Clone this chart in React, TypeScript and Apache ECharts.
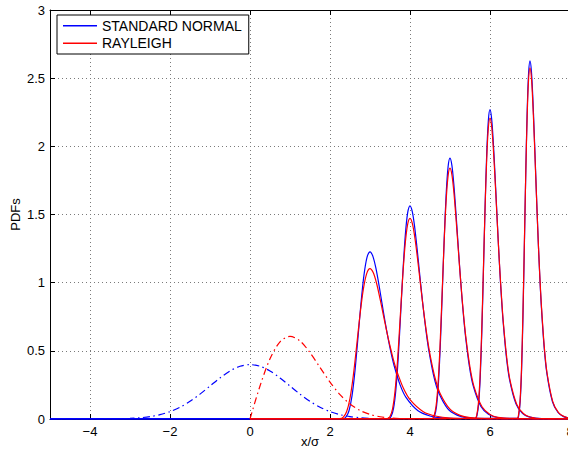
import React, { useEffect, useRef } from 'react';
import * as echarts from 'echarts';

const FONT = '"Liberation Sans", Arial, Helvetica, sans-serif';

const xTicks = [-4, -2, 0, 2, 4, 6, 8];
const legendNames = ['STANDARD NORMAL', 'RAYLEIGH'];

// Standard normal pdf (dash-dot)
const normalPdf = [
  [-5, 0], [-4.5, 0], [-4, 0.0001], [-3.5, 0.0009], [-3.25, 0.002], [-3, 0.0044], [-2.75, 0.0091],
  [-2.5, 0.0175], [-2.25, 0.0317], [-2, 0.054], [-1.75, 0.0863], [-1.5, 0.1295], [-1.25, 0.1826],
  [-1, 0.242], [-0.75, 0.3011], [-0.5, 0.3521], [-0.25, 0.3867], [0, 0.3989], [0.25, 0.3867],
  [0.5, 0.3521], [0.75, 0.3011], [1, 0.242], [1.25, 0.1826], [1.5, 0.1295], [1.75, 0.0863],
  [2, 0.054], [2.25, 0.0317], [2.5, 0.0175], [2.75, 0.0091], [3, 0.0044], [3.25, 0.002],
  [3.5, 0.0009], [4, 0.0001], [4.5, 0], [8, 0],
];

// Rayleigh pdf (dash-dot)
const rayleighPdf = [
  [0, 0], [0.25, 0.2423], [0.5, 0.4412], [0.75, 0.5661], [1, 0.6065], [1.25, 0.5723], [1.5, 0.487],
  [1.75, 0.3786], [2, 0.2707], [2.25, 0.179], [2.5, 0.1098], [2.75, 0.0627], [3, 0.0333],
  [3.25, 0.0165], [3.5, 0.0077], [3.75, 0.0033], [4, 0.0013], [4.5, 0.0002], [5, 0], [8, 0],
];

// Solid blue peaks (standard normal)
const normalPeak3 = [
  [-5, 0], [2.325, 0.0024], [2.4, 0.0152], [2.475, 0.0608], [2.55, 0.169], [2.625, 0.3547], [2.7, 0.598],
  [2.775, 0.8497], [2.85, 1.0567], [2.925, 1.1853], [3, 1.2263], [3.075, 1.1913], [3.15, 1.1023],
  [3.225, 0.9817], [3.3, 0.8487], [3.375, 0.717], [3.45, 0.595], [3.525, 0.4867], [3.6, 0.394],
  [3.75, 0.252], [3.9, 0.158], [4.2, 0.06], [4.5, 0.0223], [4.8, 0.0082], [5.4, 0.0011], [8, 0],
];
const normalPeak4 = [
  [-5, 0], [3.4706, 0.0031], [3.5294, 0.0194], [3.5882, 0.0775], [3.6471, 0.2155], [3.7059, 0.4522],
  [3.7647, 0.7625], [3.8235, 1.0833], [3.8824, 1.3473], [3.9412, 1.5113], [4, 1.5636], [4.0588, 1.519],
  [4.1176, 1.4055], [4.1765, 1.2516], [4.2353, 1.082], [4.2941, 0.9142], [4.3529, 0.7586],
  [4.4118, 0.6205], [4.4706, 0.5024], [4.5882, 0.3213], [4.7059, 0.2015], [4.9412, 0.0765],
  [5.1765, 0.0284], [5.4118, 0.0105], [5.8824, 0.0014], [8, 0],
];
const normalPeak5 = [
  [-5, 0], [4.5673, 0.0037], [4.6154, 0.0238], [4.6635, 0.0948], [4.7115, 0.2636], [4.7596, 0.5533],
  [4.8077, 0.9329], [4.8558, 1.3255], [4.9038, 1.6484], [4.9519, 1.8491], [5, 1.9131], [5.0481, 1.8585],
  [5.0962, 1.7196], [5.1442, 1.5314], [5.1923, 1.3239], [5.2404, 1.1185], [5.2885, 0.9282],
  [5.3365, 0.7592], [5.3846, 0.6146], [5.4808, 0.3931], [5.5769, 0.2465], [5.7692, 0.0936],
  [5.9615, 0.0348], [6.1538, 0.0128], [6.5385, 0.0017], [8, 0],
];
const normalPeak6 = [
  [-5, 0], [5.6351, 0.0044], [5.6757, 0.0282], [5.7162, 0.1124], [5.7568, 0.3127], [5.7973, 0.6561],
  [5.8378, 1.1063], [5.8784, 1.5719], [5.9189, 1.9548], [5.9595, 2.1929], [6, 2.2687], [6.0405, 2.204],
  [6.0811, 2.0393], [6.1216, 1.8161], [6.1622, 1.57], [6.2027, 1.3264], [6.2432, 1.1008],
  [6.2838, 0.9003], [6.3243, 0.7289], [6.4054, 0.4662], [6.4865, 0.2923], [6.6486, 0.111],
  [6.8108, 0.0413], [6.973, 0.0152], [7.2973, 0.0021], [8, 0],
];
const normalPeak7 = [
  [-5, 0], [6.685, 0.0051], [6.72, 0.0326], [6.755, 0.1302], [6.79, 0.3621], [6.825, 0.76],
  [6.86, 1.2814], [6.895, 1.8207], [6.93, 2.2643], [6.965, 2.54], [7, 2.6279], [7.035, 2.5529],
  [7.07, 2.3621], [7.105, 2.1036], [7.14, 1.8186], [7.175, 1.5364], [7.21, 1.275], [7.245, 1.0429],
  [7.28, 0.8443], [7.35, 0.54], [7.42, 0.3386], [7.56, 0.1286], [7.7, 0.0478], [7.84, 0.0176],
  [8, 0.0056],
];

// Solid red peaks (Rayleigh)
const rayleighPeak3 = [
  [0, 0], [2.25, 0.0022], [2.333, 0.0137], [2.417, 0.0547], [2.5, 0.1521], [2.583, 0.3192],
  [2.667, 0.5382], [2.75, 0.7647], [2.833, 0.951], [2.917, 1.0668], [3, 1.1037], [3.083, 1.0722],
  [3.167, 0.9921], [3.25, 0.8835], [3.333, 0.7638], [3.417, 0.6453], [3.5, 0.5355], [3.583, 0.438],
  [3.667, 0.3546], [3.833, 0.2268], [4, 0.1422], [4.333, 0.054], [4.667, 0.0201], [5, 0.0074],
  [5.667, 0.001], [8, 0],
];
const rayleighPeak4 = [
  [0, 0], [3.4375, 0.0029], [3.5, 0.0183], [3.5625, 0.0729], [3.625, 0.2028], [3.6875, 0.4256],
  [3.75, 0.7176], [3.8125, 1.0196], [3.875, 1.268], [3.9375, 1.4224], [4, 1.4716], [4.0625, 1.4296],
  [4.125, 1.3228], [4.1875, 1.178], [4.25, 1.0184], [4.3125, 0.8604], [4.375, 0.714], [4.4375, 0.584],
  [4.5, 0.4728], [4.625, 0.3024], [4.75, 0.1896], [5, 0.072], [5.25, 0.0268], [5.5, 0.0099],
  [6, 0.0013], [8, 0],
];
const rayleighPeak5 = [
  [0, 0], [4.55, 0.0036], [4.6, 0.0229], [4.65, 0.0912], [4.7, 0.2535], [4.75, 0.532], [4.8, 0.897],
  [4.85, 1.2745], [4.9, 1.585], [4.95, 1.778], [5, 1.8395], [5.05, 1.787], [5.1, 1.6535], [5.15, 1.4725],
  [5.2, 1.273], [5.25, 1.0755], [5.3, 0.8925], [5.35, 0.73], [5.4, 0.591], [5.5, 0.378], [5.6, 0.237],
  [5.8, 0.09], [6, 0.0335], [6.2, 0.0124], [6.6, 0.0017], [8, 0],
];
const rayleighPeak6 = [
  [0, 0], [5.625, 0.0043], [5.667, 0.0274], [5.708, 0.1094], [5.75, 0.3042], [5.792, 0.6384],
  [5.833, 1.0764], [5.875, 1.5294], [5.917, 1.902], [5.958, 2.1336], [6, 2.2074], [6.042, 2.1444],
  [6.083, 1.9842], [6.125, 1.767], [6.167, 1.5276], [6.208, 1.2906], [6.25, 1.071], [6.292, 0.876],
  [6.333, 0.7092], [6.417, 0.4536], [6.5, 0.2844], [6.667, 0.108], [6.833, 0.0401], [7, 0.0148],
  [7.333, 0.002], [8, 0],
];
const rayleighPeak7 = [
  [0, 0], [6.679, 0.005], [6.714, 0.032], [6.75, 0.1276], [6.786, 0.3549], [6.821, 0.7448],
  [6.857, 1.2558], [6.893, 1.7843], [6.929, 2.219], [6.964, 2.4892], [7, 2.5753], [7.036, 2.5018],
  [7.071, 2.3149], [7.107, 2.0615], [7.143, 1.7822], [7.179, 1.5057], [7.214, 1.2495], [7.25, 1.022],
  [7.286, 0.8274], [7.357, 0.5292], [7.429, 0.3318], [7.571, 0.126], [7.714, 0.0468], [7.857, 0.0173],
  [8, 0.0064],
];

const BLUE = '#0000ff';
const RED = '#ff0000';
const DASHDOT = [7, 3.5, 1.5, 3.5];

function lineSeries(name: string, data: number[][], color: string, dashed: boolean, z: number) {
  return {
    type: 'line',
    name,
    data,
    symbol: 'none',
    showSymbol: false,
    smooth: 0.3,
    silent: true,
    z,
    color,
    lineStyle: { color, width: 1.2, type: dashed ? DASHDOT : 'solid' },
  };
}

export default function App() {
  const ref = useRef<HTMLDivElement>(null);
  useEffect(() => {
    const chart = echarts.init(ref.current!, null, { renderer: 'svg' });
    const axisText = { fontFamily: FONT, fontSize: 13, color: '#000' };
    const grid = { color: '#7a7a7a', width: 1, type: [1, 3] };
    const option: any = {
      animation: false,
      backgroundColor: '#fff',
      textStyle: { fontFamily: FONT },
      grid: { left: 50, right: 30, top: 10, bottom: 34, outerBoundsMode: 'none', containLabel: false },
      legend: {
        data: legendNames,
        orient: 'vertical',
        left: 57,
        top: 15,
        padding: [3.7, 7, 3.7, 6],
        itemGap: 3.6,
        itemWidth: 34,
        itemHeight: 1.4,
        icon: 'rect',
        backgroundColor: '#fff',
        borderColor: '#000',
        borderWidth: 1,
        borderRadius: 0,
        selectedMode: false,
        textStyle: { fontFamily: FONT, fontSize: 14, lineHeight: 14, color: '#000', padding: [0, 0, 0, 0] },
      },
      xAxis: [
        {
          type: 'value',
          position: 'bottom',
          min: -5,
          max: 8,
          name: 'x/σ',
          nameLocation: 'middle',
          nameGap: 16,
          nameMoveOverlap: false,
          nameTextStyle: axisText,
          axisLine: { show: true, onZero: false, lineStyle: { color: '#000', width: 1 } },
          axisTick: { show: true, inside: true, length: 5, customValues: xTicks, lineStyle: { color: '#000' } },
          axisLabel: {
            ...axisText,
            margin: 6,
            customValues: xTicks,
            formatter: (v: number) => String(v).replace('-', '\u2212'),
          },
          splitLine: { show: true, lineStyle: grid },
        },
        {
          type: 'value',
          position: 'top',
          min: -5,
          max: 8,
          axisLine: { show: true, onZero: false, lineStyle: { color: '#000', width: 1 } },
          axisTick: { show: true, inside: true, length: 5, customValues: xTicks, lineStyle: { color: '#000' } },
          axisLabel: { show: false },
          splitLine: { show: false },
        },
      ],
      yAxis: [
        {
          type: 'value',
          min: 0,
          max: 3,
          interval: 0.5,
          name: 'PDFs',
          nameLocation: 'middle',
          nameGap: 28,
          nameRotate: 90,
          nameMoveOverlap: false,
          nameTextStyle: axisText,
          axisLine: { show: true, onZero: false, lineStyle: { color: '#000', width: 1 } },
          axisTick: { show: true, inside: true, length: 5, lineStyle: { color: '#000' } },
          axisLabel: { ...axisText, margin: 5 },
          splitLine: { show: true, lineStyle: grid },
        },
      ],
      series: [
        lineSeries('STANDARD NORMAL', normalPeak3, BLUE, false, 2),
        lineSeries('STANDARD NORMAL', normalPeak4, BLUE, false, 2),
        lineSeries('STANDARD NORMAL', normalPeak5, BLUE, false, 2),
        lineSeries('STANDARD NORMAL', normalPeak6, BLUE, false, 2),
        lineSeries('STANDARD NORMAL', normalPeak7, BLUE, false, 2),
        lineSeries('STANDARD NORMAL', normalPdf, BLUE, true, 2),
        lineSeries('RAYLEIGH', rayleighPeak3, RED, false, 3),
        lineSeries('RAYLEIGH', rayleighPeak4, RED, false, 3),
        lineSeries('RAYLEIGH', rayleighPeak5, RED, false, 3),
        lineSeries('RAYLEIGH', rayleighPeak6, RED, false, 3),
        lineSeries('RAYLEIGH', rayleighPeak7, RED, false, 3),
        lineSeries('RAYLEIGH', rayleighPdf, RED, true, 3),
      ],
    };
    chart.setOption(option);
    return () => chart.dispose();
  }, []);
  return (
    <div
      style={{
        position: 'fixed',
        left: 0,
        top: 0,
        width: 568,
        height: 453,
        overflow: 'hidden',
        background: '#fff',
      }}
    >
      <div ref={ref} style={{ width: 600, height: 453 }} />
    </div>
  );
}
